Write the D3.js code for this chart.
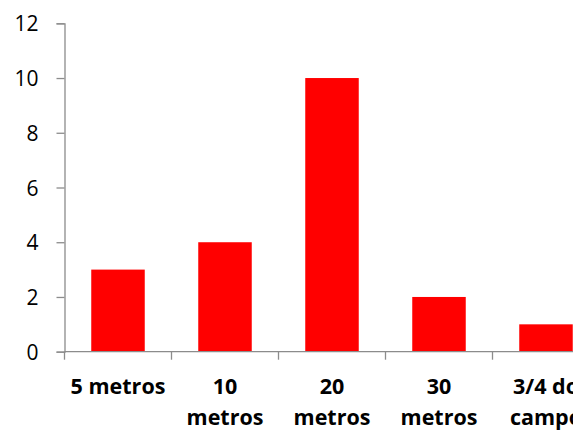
<!DOCTYPE html>
<html>
<head>
<meta charset="utf-8">
<script src="https://cdn.jsdelivr.net/npm/d3@7"></script>
<style>
  html, body { margin: 0; padding: 0; background: #fff; }
  svg { display: block; }
</style>
</head>
<body>
<svg id="chart" width="577" height="430"></svg>
<script>
// Category labels, split into lines as they wrap under the axis
const categories = ["5 metros", "10 metros", "20 metros", "30 metros", "3/4 do campo"];
const labelLines = [["5 metros"], ["10", "metros"], ["20", "metros"], ["30", "metros"], ["3/4 do", "campo"]];
const values = [3, 4, 10, 2, 1];
const yTicks = [0, 2, 4, 6, 8, 10, 12];

const svg = d3.select("#chart");
const axisColor = "#8c8c8c";
const font = "'Open Sans', Carlito, Calibri, sans-serif";

// visible drawing area stops a little before the window edge
svg.append("defs").append("clipPath").attr("id", "frame")
  .append("rect").attr("x", 0).attr("y", 0).attr("width", 573).attr("height", 430);
const g = svg.append("g").attr("clip-path", "url(#frame)");

const x = d3.scaleBand().domain(categories).range([64.5, 599.5])
  .paddingInner(0.5).paddingOuter(0.25);
const y = d3.scaleLinear().domain([0, 12]).range([351.7, 23.3]);

// bars
g.selectAll("rect.bar").data(categories).join("rect")
  .attr("class", "bar")
  .attr("x", d => x(d))
  .attr("width", x.bandwidth())
  .attr("y", (d, i) => y(values[i]))
  .attr("height", (d, i) => y(0) - y(values[i]))
  .attr("fill", "#ff0000");

// y axis
const yAxis = g.append("g").attr("transform", `translate(${x.range()[0]},0)`)
  .call(d3.axisLeft(y).tickValues(yTicks).tickSize(8).tickPadding(18).tickFormat(d3.format("d")));
yAxis.select(".domain").attr("stroke", axisColor).attr("stroke-width", 1.3);
yAxis.selectAll(".tick line").attr("stroke", axisColor).attr("stroke-width", 1.3);
yAxis.selectAll(".tick text")
  .attr("fill", "#000").attr("font-family", font).attr("font-size", 21).attr("dy", "0.36em");

// x axis line with ticks at the category boundaries
const x0 = x.range()[0], x1 = x.range()[1];
g.append("line").attr("x1", x0).attr("x2", x1).attr("y1", y(0)).attr("y2", y(0))
  .attr("stroke", axisColor).attr("stroke-width", 1.3);
const gap = (x.step() - x.bandwidth()) / 2;
const bounds = categories.map(d => x(d) - gap).concat([x1]);
g.selectAll("line.xtick").data(bounds).join("line")
  .attr("class", "xtick")
  .attr("x1", d => d).attr("x2", d => d)
  .attr("y1", y(0)).attr("y2", y(0) + 8)
  .attr("stroke", axisColor).attr("stroke-width", 1.3);

// category labels
const labels = g.selectAll("text.cat").data(categories).join("text")
  .attr("class", "cat")
  .attr("x", d => x(d) + x.bandwidth() / 2)
  .attr("y", 394)
  .attr("text-anchor", "middle")
  .attr("font-family", font).attr("font-weight", "bold").attr("font-size", 21.5)
  .attr("fill", "#000");
labels.each(function (d, i) {
  const t = d3.select(this);
  labelLines[i].forEach((line, j) => {
    t.append("tspan").attr("x", x(d) + x.bandwidth() / 2).attr("dy", j === 0 ? 0 : 31).text(line);
  });
});
</script>
</body>
</html>
